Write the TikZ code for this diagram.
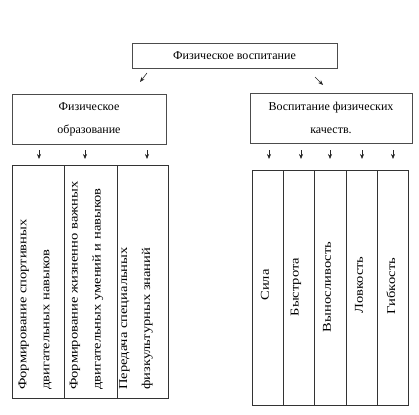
\documentclass[tikz,border=0pt]{standalone}
\usepackage{fontspec}
\setmainfont{Liberation Serif}
\usetikzlibrary{arrows.meta}
\begin{document}
\begin{tikzpicture}[x=1pt,y=-1pt,
  hbox/.style={draw=black!70, line width=0.5pt, inner sep=0pt},
  colbox/.style={draw=black!80, line width=0.6pt, inner sep=0pt, anchor=north west},
  vtext/.style={rotate=90, xscale=1.21, align=left, inner sep=0pt, font=\fontsize{12}{23}\selectfont},
  ctext/.style={rotate=90, xscale=1.21, inner sep=0pt, font=\fontsize{12}{23}\selectfont},
  arr/.style={-{Stealth[length=5pt,width=4pt]}, line width=0.6pt, black!85},
  htext/.style={align=center, font=\fontsize{12}{23}\selectfont}]
\useasboundingbox (0,0) rectangle (419,414);
% top box
\node[hbox, minimum width=205pt, minimum height=25pt, htext] (top) at (234.5,55.5) {Физическое воспитание};
% second level
\node[hbox, minimum width=154pt, minimum height=50pt, htext] (fo) at (89,119) {Физическое\\образование};
\node[hbox, minimum width=162pt, minimum height=50pt, htext] (vf) at (331,118) {Воспитание физических\\качеств.};
% arrows from top
\coordinate (ta1) at (147,73); \coordinate (tb1) at (140,82);
\coordinate (ta2) at (315,77); \coordinate (tb2) at (323,85);
\draw[arr] (ta1) -- (tb1);
\draw[arr] (ta2) -- (tb2);
% left columns
\node[colbox, minimum width=52pt, minimum height=233pt] (c1) at (12,165) {};
\node[colbox, minimum width=53pt, minimum height=233pt] (c2) at (64,165) {};
\node[colbox, minimum width=51pt, minimum height=233pt] (c3) at (117,165) {};
\node[vtext, anchor=west] (t1) at (35,390) {Формирование спортивных\\двигательных навыков};
\node[vtext, anchor=west] (t2) at (86.5,390) {Формирование жизненно важных\\двигательных умений и навыков};
\node[vtext, anchor=west] (t3) at (136,390) {Передача специальных\\физкультурных знаний};
% left arrows
\foreach \x/\n in {39/1,85/2,147/3}{
  \coordinate (la\n) at (\x,150); \coordinate (lb\n) at (\x,159);
  \draw[arr] (la\n) -- (lb\n);
}
% right columns
\node[colbox, minimum width=31pt, minimum height=235pt] (r1) at (252,170) {};
\node[colbox, minimum width=31pt, minimum height=235pt] (r2) at (283,170) {};
\node[colbox, minimum width=32pt, minimum height=235pt] (r3) at (314,170) {};
\node[colbox, minimum width=31pt, minimum height=235pt] (r4) at (346,170) {};
\node[colbox, minimum width=31pt, minimum height=235pt] (r5) at (377,170) {};
\node[ctext] (s1) at (265,285) {Сила};
\node[ctext] (s2) at (296,287) {Быстрота};
\node[ctext] (s3) at (327,287) {Выносливость};
\node[ctext] (s4) at (359,285) {Ловкость};
\node[ctext] (s5) at (391,286) {Гибкость};
% right arrows
\foreach \x/\n in {269/1,301/2,330/3,362/4,393/5}{
  \coordinate (ra\n) at (\x,150); \coordinate (rb\n) at (\x,159);
  \draw[arr] (ra\n) -- (rb\n);
}
\end{tikzpicture}
\end{document}
